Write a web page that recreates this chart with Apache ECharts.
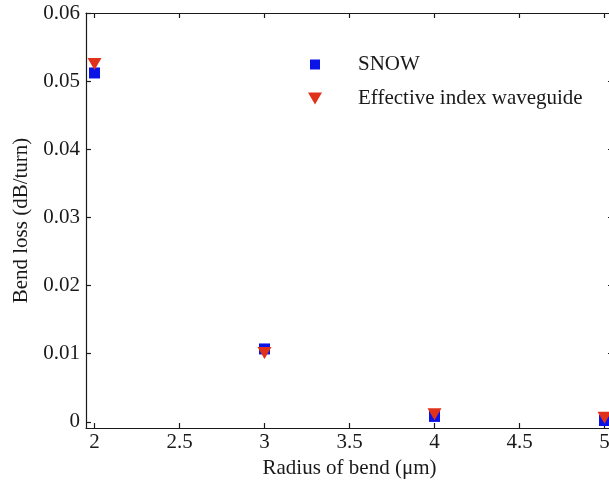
<!DOCTYPE html>
<html>
<head>
<meta charset="utf-8">
<script src="https://cdn.jsdelivr.net/npm/echarts@6/dist/echarts.min.js"></script>
<style>
  html, body { margin: 0; padding: 0; background: #fff; }
  #chart { width: 609px; height: 482px; }
</style>
</head>
<body>
<div id="chart"></div>
<script>
// Bend loss versus bend radius for two modelling approaches
const radius = [2, 3, 4, 5];
const snowLoss = [0.0512, 0.0107, 0.0008, 0.0002];
const effIndexLoss = [0.0525, 0.0101, 0.0011, 0.0006];
const xTicks = [2, 2.5, 3, 3.5, 4, 4.5, 5];
const yTicks = [0, 0.01, 0.02, 0.03, 0.04, 0.05, 0.06];
const seriesNames = ['SNOW', 'Effective index waveguide'];

const FONT = '"Liberation Serif", "Times New Roman", serif';
const INK = '#1a1a1a';
const BLUE = '#0a14e6';
const RED = '#e0321a';
const DOWN_TRIANGLE = 'path://M0,0 L14,0 L7,12 Z';

const lineStyle = { color: INK, width: 1.2 };
const tickStyle = { show: true, inside: true, length: 5, lineStyle: { color: INK, width: 1.2 } };

function pairs(xs, ys) {
  return xs.map((x, i) => [x, ys[i]]);
}

const chart = echarts.init(document.getElementById('chart'), null, { renderer: 'canvas' });

chart.setOption({
  backgroundColor: '#ffffff',
  animation: false,
  grid: {
    left: 86, top: 13, width: 527, height: 415,
    containLabel: false, outerBoundsMode: 'none'
  },
  legend: [
    {
      data: [{ name: seriesNames[0], icon: 'rect' }],
      orient: 'vertical', left: 305, top: 49,
      itemWidth: 10, itemHeight: 10,
      textStyle: { fontFamily: FONT, fontSize: 21, color: INK, padding: [0, 0, 0, 33] }
    },
    {
      data: [{ name: seriesNames[1], icon: DOWN_TRIANGLE }],
      orient: 'vertical', left: 303, top: 83,
      itemWidth: 14, itemHeight: 12,
      textStyle: { fontFamily: FONT, fontSize: 21, color: INK, padding: [0, 0, 0, 31] }
    }
  ],
  xAxis: [
    {
      type: 'value', position: 'bottom', min: 1.95, max: 5.05,
      name: 'Radius of bend (\u03bcm)', nameLocation: 'middle', nameGap: 28,
      nameTextStyle: { fontFamily: FONT, fontSize: 21, color: INK },
      axisLine: { show: true, onZero: false, lineStyle },
      axisTick: Object.assign({ customValues: xTicks }, tickStyle),
      axisLabel: {
        customValues: xTicks, margin: 4,
        fontFamily: FONT, fontSize: 21, color: INK,
        formatter: v => String(v)
      },
      splitLine: { show: false }
    },
    {
      type: 'value', position: 'top', min: 1.95, max: 5.05,
      axisLine: { show: true, onZero: false, lineStyle },
      axisTick: Object.assign({ customValues: xTicks }, tickStyle),
      axisLabel: { show: false },
      splitLine: { show: false }
    }
  ],
  yAxis: [
    {
      type: 'value', position: 'left', min: -0.0009, max: 0.06,
      name: 'Bend loss (dB/turn)', nameLocation: 'middle', nameGap: 51, nameRotate: 90,
      nameTextStyle: { fontFamily: FONT, fontSize: 21, color: INK },
      axisLine: { show: true, onZero: false, lineStyle },
      axisTick: Object.assign({ customValues: yTicks }, tickStyle),
      axisLabel: {
        customValues: yTicks, margin: 6,
        fontFamily: FONT, fontSize: 21, color: INK,
        formatter: v => (v === 0 ? '0' : v.toFixed(2))
      },
      splitLine: { show: false }
    },
    {
      type: 'value', position: 'right', min: -0.0009, max: 0.06,
      axisLine: { show: true, onZero: false, lineStyle },
      axisTick: Object.assign({ customValues: yTicks }, tickStyle),
      axisLabel: { show: false },
      splitLine: { show: false }
    }
  ],
  series: [
    {
      name: seriesNames[0], type: 'scatter',
      xAxisIndex: 0, yAxisIndex: 0,
      symbol: 'rect', symbolSize: 11,
      itemStyle: { color: BLUE, opacity: 1 },
      data: pairs(radius, snowLoss),
      clip: false, z: 3
    },
    {
      name: seriesNames[1], type: 'scatter',
      xAxisIndex: 0, yAxisIndex: 0,
      symbol: 'triangle', symbolRotate: 180, symbolSize: [14, 12],
      itemStyle: { color: RED, opacity: 1 },
      data: pairs(radius, effIndexLoss),
      clip: false, z: 4
    }
  ]
});
</script>
</body>
</html>
